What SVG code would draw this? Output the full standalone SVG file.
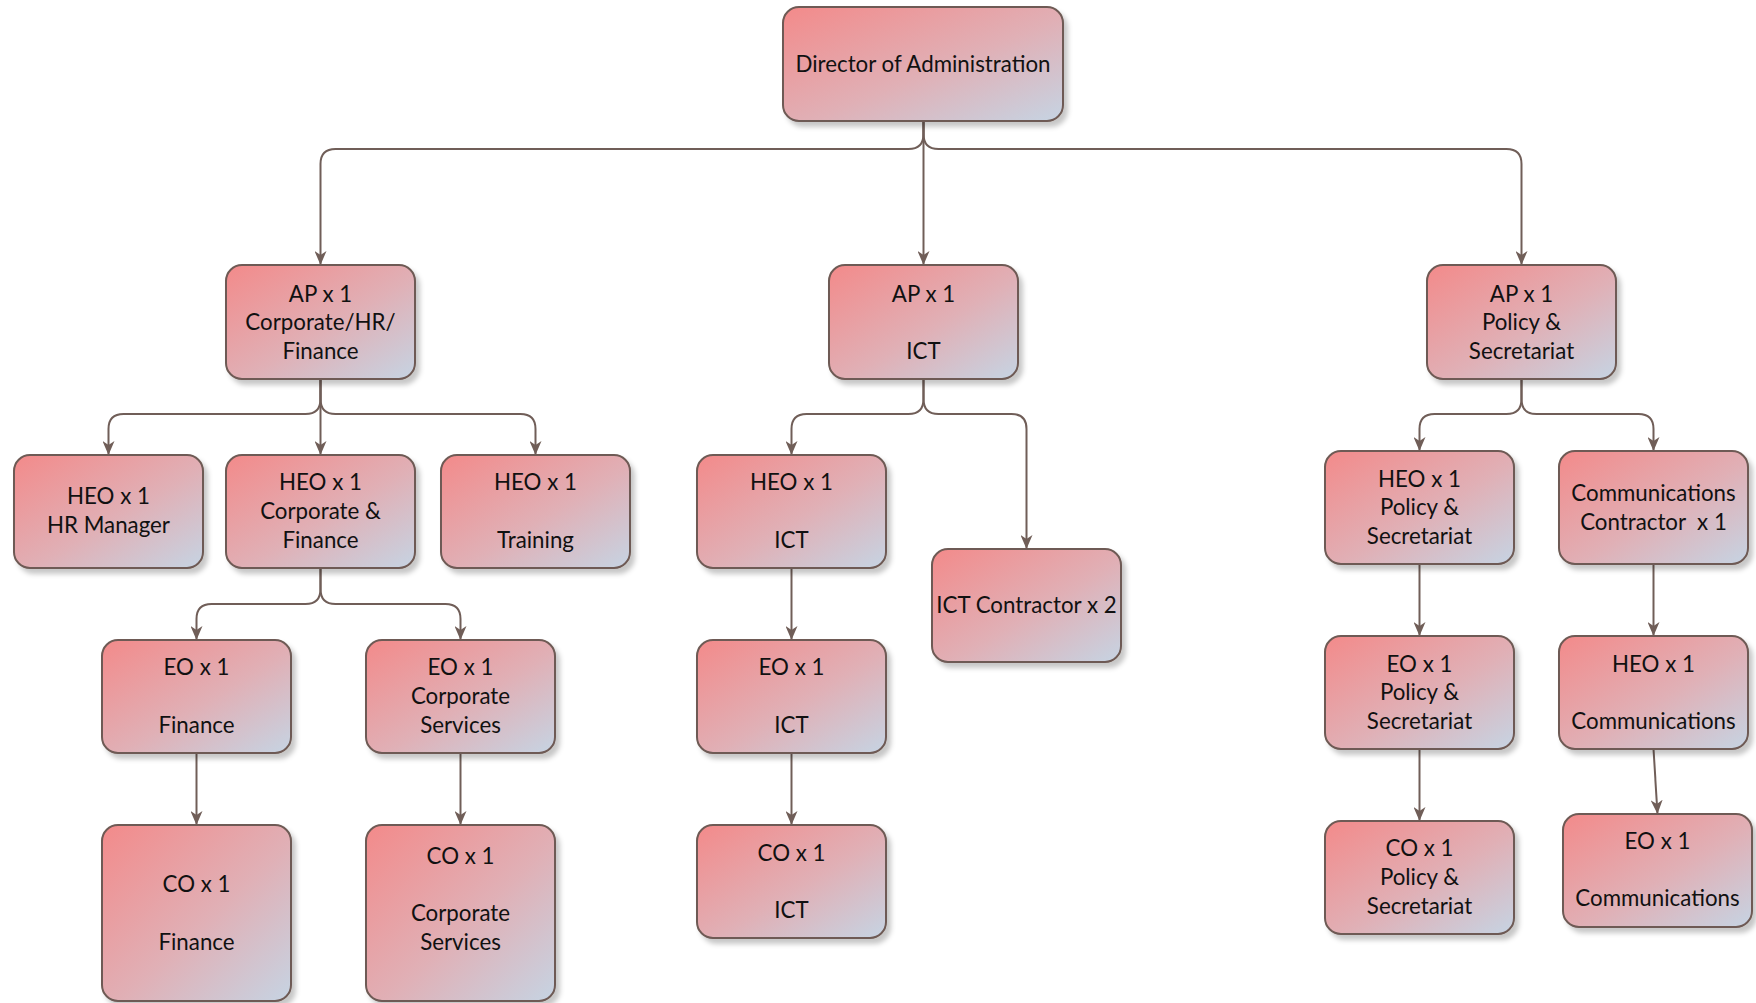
<svg xmlns="http://www.w3.org/2000/svg" width="1756" height="1003" viewBox="0 0 1756 1003">
<defs>
<linearGradient id="g" x1="0" y1="0" x2="1" y2="1">
<stop offset="0" stop-color="#f38a8a"/>
<stop offset="0.55" stop-color="#e0b0b6"/>
<stop offset="1" stop-color="#c6d4e3"/>
</linearGradient>
<filter id="sh" x="-10%" y="-10%" width="125%" height="130%">
<feDropShadow dx="4" dy="5" stdDeviation="2.5" flood-color="#000" flood-opacity="0.22"/>
</filter>
<marker id="arr" markerUnits="userSpaceOnUse" viewBox="0 0 14 12" markerWidth="14" markerHeight="12" refX="14" refY="6" orient="auto">
<path d="M0,0 L14,6 L0,12 L4,6 z" fill="#705e58"/>
</marker>
</defs>
<style>
.box{fill:url(#g);stroke:#6e5a54;stroke-width:2;filter:url(#sh)}
.t{font-family:Lato,"Liberation Sans",sans-serif;font-size:22.3px;fill:#111;text-anchor:middle}
.c{fill:none;stroke:#705e58;stroke-width:2;marker-end:url(#arr)}
</style>
<rect width="1756" height="1003" fill="#fff"/>
<g id="connectors">
<path class="c" d="M923.5,121 V265"/>
<path class="c" d="M923.5,121 V134 Q923.5,149 908.5,149 H335.5 Q320.5,149 320.5,164 V265"/>
<path class="c" d="M923.5,121 V134 Q923.5,149 938.5,149 H1506.5 Q1521.5,149 1521.5,164 V265"/>
<path class="c" d="M320.5,379 V399 Q320.5,414 305.5,414 H123.5 Q108.5,414 108.5,429 V455"/>
<path class="c" d="M320.5,379 V399 Q320.5,414 335.5,414 H520.5 Q535.5,414 535.5,429 V455"/>
<path class="c" d="M320.5,379 V455"/>
<path class="c" d="M923.5,379 V399 Q923.5,414 908.5,414 H806.5 Q791.5,414 791.5,429 V455"/>
<path class="c" d="M923.5,379 V399 Q923.5,414 938.5,414 H1011.5 Q1026.5,414 1026.5,429 V549"/>
<path class="c" d="M1521.5,379 V399 Q1521.5,414 1506.5,414 H1434.5 Q1419.5,414 1419.5,429 V451"/>
<path class="c" d="M1521.5,379 V399 Q1521.5,414 1536.5,414 H1638.5 Q1653.5,414 1653.5,429 V451"/>
<path class="c" d="M320.5,568 V589 Q320.5,604 305.5,604 H211.5 Q196.5,604 196.5,619 V640"/>
<path class="c" d="M320.5,568 V589 Q320.5,604 335.5,604 H445.5 Q460.5,604 460.5,619 V640"/>
<path class="c" d="M196.5,753 V825"/>
<path class="c" d="M460.5,753 V825"/>
<path class="c" d="M791.5,568 V640"/>
<path class="c" d="M791.5,753 V825"/>
<path class="c" d="M1419.5,564 V636"/>
<path class="c" d="M1419.5,749 V821"/>
<path class="c" d="M1653.5,564 V636"/>
<path class="c" d="M1653.5,749 L1657.5,814"/>
</g>
<g id="director"><rect class="box" x="783" y="7" width="280" height="114" rx="16"/><text class="t" x="923" y="72">Director of Administration</text></g>
<g id="ap-corp"><rect class="box" x="226" y="265" width="189" height="114" rx="16"/><text class="t" x="320.5" y="301.5">AP x 1</text><text class="t" x="320.5" y="329.5">Corporate/HR/</text><text class="t" x="320.5" y="358.5">Finance</text></g>
<g id="ap-ict"><rect class="box" x="829" y="265" width="189" height="114" rx="16"/><text class="t" x="923.5" y="301.5">AP x 1</text><text class="t" x="923.5" y="358.5">ICT</text></g>
<g id="ap-policy"><rect class="box" x="1427" y="265" width="189" height="114" rx="16"/><text class="t" x="1521.5" y="301.5">AP x 1</text><text class="t" x="1521.5" y="329.5">Policy &amp;</text><text class="t" x="1521.5" y="358.5">Secretariat</text></g>
<g id="heo-hr"><rect class="box" x="14" y="455" width="189" height="113" rx="16"/><text class="t" x="108.5" y="504">HEO x 1</text><text class="t" x="108.5" y="533">HR Manager</text></g>
<g id="heo-corp"><rect class="box" x="226" y="455" width="189" height="113" rx="16"/><text class="t" x="320.5" y="489.5">HEO x 1</text><text class="t" x="320.5" y="518.5">Corporate &amp;</text><text class="t" x="320.5" y="547.5">Finance</text></g>
<g id="heo-training"><rect class="box" x="441" y="455" width="189" height="113" rx="16"/><text class="t" x="535.5" y="489.5">HEO x 1</text><text class="t" x="535.5" y="547.5">Training</text></g>
<g id="eo-finance"><rect class="box" x="102" y="640" width="189" height="113" rx="16"/><text class="t" x="196.5" y="674.5">EO x 1</text><text class="t" x="196.5" y="732.5">Finance</text></g>
<g id="eo-corp"><rect class="box" x="366" y="640" width="189" height="113" rx="16"/><text class="t" x="460.5" y="674.5">EO x 1</text><text class="t" x="460.5" y="703.5">Corporate</text><text class="t" x="460.5" y="732.5">Services</text></g>
<g id="co-finance"><rect class="box" x="102" y="825" width="189" height="176" rx="16"/><text class="t" x="196.5" y="891.5">CO x 1</text><text class="t" x="196.5" y="950">Finance</text></g>
<g id="co-corp"><rect class="box" x="366" y="825" width="189" height="176" rx="16"/><text class="t" x="460.5" y="863.5">CO x 1</text><text class="t" x="460.5" y="920.5">Corporate</text><text class="t" x="460.5" y="950">Services</text></g>
<g id="heo-ict"><rect class="box" x="697" y="455" width="189" height="113" rx="16"/><text class="t" x="791.5" y="489.5">HEO x 1</text><text class="t" x="791.5" y="547.5">ICT</text></g>
<g id="eo-ict"><rect class="box" x="697" y="640" width="189" height="113" rx="16"/><text class="t" x="791.5" y="674.5">EO x 1</text><text class="t" x="791.5" y="732.5">ICT</text></g>
<g id="co-ict"><rect class="box" x="697" y="825" width="189" height="113" rx="16"/><text class="t" x="791.5" y="860.5">CO x 1</text><text class="t" x="791.5" y="917.5">ICT</text></g>
<g id="ict-contractor"><rect class="box" x="932" y="549" width="189" height="113" rx="16"/><text class="t" x="1026.5" y="613">ICT Contractor x 2</text></g>
<g id="heo-policy"><rect class="box" x="1325" y="451" width="189" height="113" rx="16"/><text class="t" x="1419.5" y="486.5">HEO x 1</text><text class="t" x="1419.5" y="514.5">Policy &amp;</text><text class="t" x="1419.5" y="543.5">Secretariat</text></g>
<g id="comms-contractor"><rect class="box" x="1559" y="451" width="189" height="113" rx="16"/><text class="t" x="1653.5" y="501">Communications</text><text class="t" x="1653.5" y="530" xml:space="preserve">Contractor  x 1</text></g>
<g id="eo-policy"><rect class="box" x="1325" y="636" width="189" height="113" rx="16"/><text class="t" x="1419.5" y="672">EO x 1</text><text class="t" x="1419.5" y="700">Policy &amp;</text><text class="t" x="1419.5" y="729">Secretariat</text></g>
<g id="heo-comms"><rect class="box" x="1559" y="636" width="189" height="113" rx="16"/><text class="t" x="1653.5" y="672">HEO x 1</text><text class="t" x="1653.5" y="729">Communications</text></g>
<g id="co-policy"><rect class="box" x="1325" y="821" width="189" height="113" rx="16"/><text class="t" x="1419.5" y="856">CO x 1</text><text class="t" x="1419.5" y="885">Policy &amp;</text><text class="t" x="1419.5" y="914">Secretariat</text></g>
<g id="eo-comms"><rect class="box" x="1563" y="814" width="189" height="113" rx="16"/><text class="t" x="1657.5" y="849">EO x 1</text><text class="t" x="1657.5" y="906">Communications</text></g>
</svg>
